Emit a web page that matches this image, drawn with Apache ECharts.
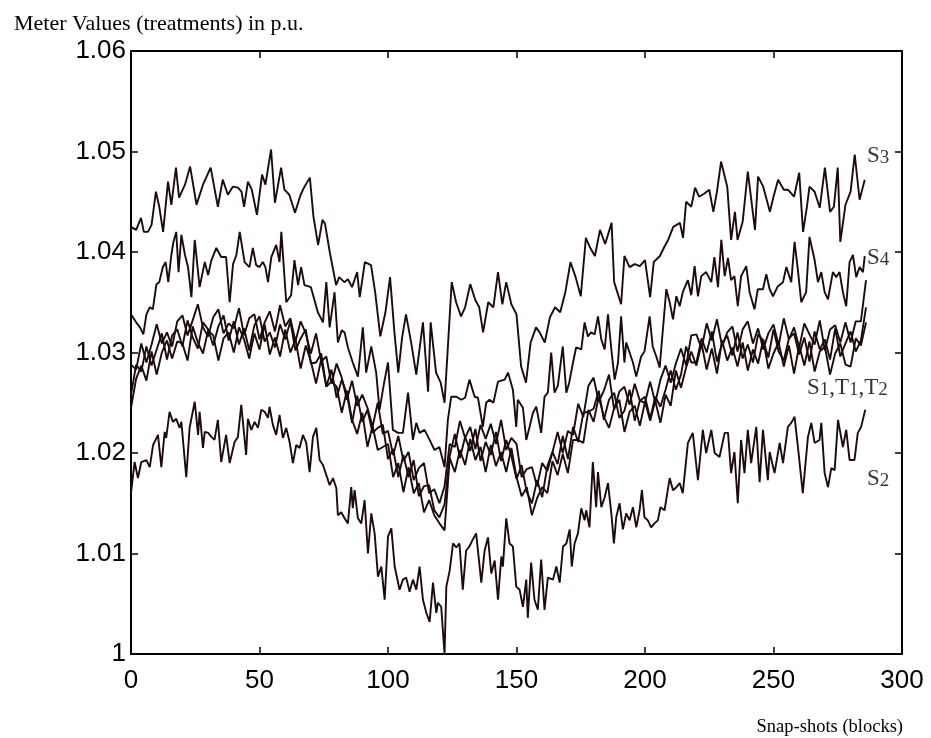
<!DOCTYPE html>
<html><head><meta charset="utf-8">
<script src="https://cdn.jsdelivr.net/npm/echarts@6/dist/echarts.min.js"></script>
<style>html,body{margin:0;padding:0;background:#fff}#c{width:931px;height:738px}</style>
</head><body><div id="c"></div>
<script>
// ---------- DATA ----------
const xTicks = [0, 50, 100, 150, 200, 250, 300];
const yTickLabels = ['1', '1.01', '1.02', '1.03', '1.04', '1.05', '1.06'];

// S3 (top curve) [snap-shot, value]
const S3 = [[0,1.0425],[2,1.0422],[3.9,1.0434],[5,1.042],[6.6,1.042],[8,1.0427],[9.7,1.046],[11,1.0445],[12.5,1.042],[14.4,1.047],
[15.7,1.0447],[17.5,1.0484],[18.7,1.0454],[21,1.0467],[23,1.0485],[25.5,1.0447],[28,1.0467],[31,1.0484],[33.8,1.0445],[35.7,1.0472],
[37.7,1.0457],[39.6,1.0465],[41.6,1.0464],[43,1.046],[44,1.0445],[45.5,1.047],[47,1.0462],[49,1.0437],[51,1.0477],[52.3,1.0467],
[54.5,1.0502],[56,1.0449],[58.4,1.0484],[59.7,1.0462],[61.6,1.0457],[63.8,1.0439],[66,1.0457],[67.5,1.0465],[69.6,1.0474],[71,1.0435],
[72.8,1.0407],[74.5,1.0432],[75.5,1.0428],[77.4,1.0399],[79.8,1.0367],[81,1.0375],[83,1.037],[84.4,1.0373],[86,1.0365],[88,1.038],
[89,1.0355],[91,1.039],[93.4,1.0387],[95,1.036],[97,1.0316],[99,1.034],[100.8,1.0375],[102.5,1.032],[104,1.028],[105.5,1.0315],
[107,1.0338],[109,1.031],[111,1.0278],[113.6,1.033],[115.6,1.0261],[116.6,1.033],[118.7,1.028],[120.5,1.027],[122,1.025],[124.8,1.037],
[126.5,1.035],[128.4,1.0336],[130,1.0345],[132,1.0368],[134,1.0352],[135.5,1.0345],[137,1.032],[139,1.035],[141,1.0345],[142.8,1.038],
[144.5,1.0348],[146,1.037],[148,1.0348],[150,1.0338],[151.8,1.0286],[153.7,1.027],[155.5,1.031],[157.6,1.0325],[159,1.032],[161,1.031],
[163,1.0335],[165,1.0345],[167,1.034],[169,1.036],[171,1.039],[173,1.0375],[175,1.0356],[177,1.0414],[178.5,1.0405],[180.5,1.0396],
[182.5,1.0422],[184.5,1.0408],[187,1.0429],[188,1.037],[190.7,1.0348],[192,1.0396],[194,1.0385],[196,1.0388],[198,1.0386],[200,1.0392],
[202,1.0355],[203.4,1.039],[205.8,1.0396],[207.5,1.0405],[209,1.0412],[211,1.0425],[213.6,1.0429],[214.8,1.0414],[216,1.045],[218,1.0445],
[219.5,1.0464],[221,1.0455],[223,1.0458],[225,1.0462],[226.6,1.044],[228,1.046],[229.6,1.049],[232,1.0465],[233.5,1.0412],[235,1.044],
[236,1.0412],[238,1.043],[240,1.048],[242.8,1.0422],[244,1.0475],[246,1.0465],[248.6,1.044],[250,1.0455],[251.8,1.0472],[254,1.0462],
[255.6,1.0462],[258,1.0455],[260,1.0479],[261.5,1.042],[263,1.0445],[264,1.0465],[266,1.046],[268,1.0444],[270,1.0484],[272,1.044],
[273.5,1.0445],[275,1.0484],[276,1.041],[278,1.0447],[280,1.046],[281.6,1.0497],[283.5,1.0452],[285.5,1.0472]];

// S4 (second curve)
const S4 = [[0,1.0338],[2,1.033],[3.5,1.0325],[4.8,1.0318],[6,1.0338],[7.3,1.0345],[8.5,1.0343],[9.9,1.0368],[11,1.037],[12.4,1.0385],
[13.5,1.039],[14.5,1.037],[15.7,1.0397],[16.5,1.041],[17.6,1.042],[18.5,1.038],[19.6,1.0417],[21,1.0397],[22.2,1.0385],[23.5,1.0355],
[24.8,1.0412],[26.7,1.0365],[28.7,1.039],[30,1.0377],[31.3,1.0392],[33.2,1.0404],[35.1,1.0395],[37,1.0395],[38.4,1.035],[39.7,1.0388],
[41,1.0397],[42.3,1.042],[44.2,1.039],[46.1,1.0385],[47.4,1.0404],[48.7,1.0387],[50,1.0385],[51.3,1.039],[52.3,1.0385],[53.3,1.037],
[54.6,1.0395],[56.5,1.0407],[57.8,1.039],[58.5,1.042],[60.4,1.035],[62.3,1.0357],[63.6,1.0392],[65,1.0367],[66.2,1.0385],[67.5,1.0367],
[70,1.0365],[72.7,1.034],[74.7,1.033],[76,1.037],[77.3,1.0325],[79.2,1.036],[80.5,1.031],[82,1.0322],[83.1,1.032],[84.4,1.0305],
[86.3,1.029],[88.3,1.0276],[90.2,1.0325],[91.5,1.028],[93.5,1.0306],[95.4,1.028],[96.7,1.0243],[98.5,1.027],[100,1.029],[101.9,1.0223],
[103.9,1.022],[105.8,1.022],[107.8,1.026],[109.7,1.0213],[111,1.023],[112.3,1.022],[114.2,1.0223],[116.2,1.0213],[118.1,1.0203],[120,1.0206],
[122,1.0186],[123.3,1.0233],[124.6,1.0256],[126.6,1.0256],[128.5,1.0253],[130,1.0255],[131.7,1.0273],[133.7,1.0256],[135,1.0255],[136.9,1.0226],
[138.2,1.025],[139.5,1.0253],[141,1.025],[142.8,1.0271],[145.4,1.0273],[146.7,1.028],[148.6,1.0263],[149.9,1.0226],[150.5,1.0253],[152.5,1.0245],
[153.8,1.0213],[155.1,1.0226],[156.4,1.024],[157.7,1.0246],[159.6,1.022],[160.9,1.0256],[162.2,1.026],[163.5,1.03],[164.8,1.026],[166.1,1.0267],
[168,1.0306],[169.4,1.026],[170.5,1.027],[172,1.029],[173.2,1.0305],[175.2,1.0303],[176.5,1.033],[177.8,1.0316],[179,1.032],[180.4,1.0318],
[181.7,1.0336],[183,1.0313],[184.3,1.0303],[185.6,1.0338],[186.9,1.0303],[188.2,1.0273],[189.5,1.029],[190.7,1.0336],[192,1.029],[192.7,1.031],
[194,1.03],[195.3,1.029],[196.6,1.0276],[198.5,1.0296],[199.8,1.0301],[201.8,1.0336],[203,1.0306],[204.4,1.0296],[205.7,1.0285],[206.3,1.0303],
[208.3,1.0363],[209.6,1.035],[210.9,1.0333],[212.2,1.0356],[213.5,1.0346],[214.7,1.036],[216.7,1.0372],[218,1.0357],[219.3,1.0386],[220.6,1.0356],
[221.9,1.0376],[223.8,1.038],[225.8,1.037],[227,1.0395],[228.4,1.0365],[229.7,1.0412],[231,1.0376],[232.3,1.0394],[233.5,1.0372],[234.8,1.0376],
[236.1,1.0346],[237.4,1.0376],[239.4,1.0386],[240.7,1.036],[242.6,1.0343],[243.9,1.0363],[245.9,1.0363],[247.2,1.0378],[248.5,1.0363],[249.8,1.0356],
[251.7,1.0366],[253.7,1.037],[255,1.0385],[256.9,1.037],[258.2,1.041],[259.5,1.0382],[260.8,1.035],[262.7,1.036],[264,1.0415],[266,1.0392],
[267.3,1.037],[268.6,1.038],[269.9,1.036],[271.2,1.0353],[273.1,1.038],[274.4,1.0375],[275.7,1.038],[277,1.036],[278.3,1.0346],[279.6,1.039],
[280.9,1.0397],[282.2,1.0375],[283.5,1.0385],[284.8,1.038],[285.5,1.0396]];

// S2 (bottom curve)
const S2 = [[0,1.016],[1.4,1.0191],[2.7,1.0175],[4,1.0191],[6,1.0193],[7.3,1.0186],[8.6,1.0208],[10.5,1.0218],[11.8,1.0186],[13.1,1.0221],
[13.7,1.0215],[15,1.0241],[16.3,1.0231],[17.6,1.0234],[18.9,1.0225],[19.6,1.0231],[21.5,1.0176],[22.8,1.0225],[24.8,1.0251],[26.1,1.0218],
[26.7,1.0241],[28,1.0205],[28.7,1.0221],[30,1.022],[31.3,1.0216],[32.5,1.0213],[33.8,1.0233],[35.1,1.0191],[37,1.0218],[38.4,1.019],
[40.3,1.0211],[41.6,1.0216],[42.9,1.0248],[44.8,1.0198],[45.5,1.0234],[46.8,1.0223],[48.1,1.0231],[49.4,1.0225],[50.7,1.0243],[52,1.0241],
[53.3,1.0235],[53.9,1.0246],[55.2,1.0228],[56.5,1.0218],[57.8,1.0238],[59.1,1.0215],[60.4,1.0225],[61.7,1.0211],[63,1.019],[64.3,1.0208],
[65.6,1.0205],[66.9,1.0218],[68.2,1.021],[69.5,1.0181],[70.8,1.0216],[72.1,1.0225],[73.4,1.0193],[74.7,1.0188],[76,1.0178],[77.3,1.0168],
[78.6,1.0175],[79.9,1.0165],[80.5,1.0138],[81.8,1.0141],[83.1,1.0135],[84.4,1.013],[85.7,1.0166],[86.3,1.0145],[87,1.0163],[88.3,1.0135],
[89.6,1.013],[90.9,1.0153],[92.2,1.01],[93.5,1.014],[94.8,1.012],[96.1,1.0077],[97.4,1.0087],[98.7,1.0054],[100,1.0117],[101.3,1.0125],
[102.6,1.0087],[104.5,1.0064],[105.8,1.0074],[107.1,1.0076],[108.4,1.0062],[109.7,1.0074],[111,1.0064],[112.3,1.0087],[113.6,1.0054],[114.9,1.0041],
[116.2,1.0032],[117.5,1.0071],[118.8,1.0041],[119.4,1.0051],[120.7,1.0047],[122,1.0],[122.7,1.0067],[124,1.0083],[125.3,1.011],[126.6,1.0106],
[127.8,1.011],[129.1,1.0064],[130.4,1.0103],[131.7,1.0107],[133,1.0114],[134.3,1.012],[136.3,1.0071],[137.6,1.0103],[138.9,1.0116],[140.2,1.008],
[141.5,1.0093],[142.8,1.0054],[144.1,1.0097],[144.7,1.0087],[146,1.0135],[147.3,1.011],[148.6,1.0107],[149.9,1.0067],[151.2,1.0064],[152.5,1.0047],
[153.8,1.0074],[154.4,1.0036],[155.7,1.0091],[157,1.0054],[158.3,1.0044],[159.6,1.0094],[160.9,1.0044],[162.2,1.0076],[164.2,1.0074],[165.5,1.0087],
[166.8,1.0071],[168.1,1.0107],[169.4,1.011],[170.7,1.0124],[171.5,1.0087],[172.6,1.011],[173.9,1.012],[175.2,1.0145],[176.5,1.0133],[177.1,1.0143],
[178.4,1.0126],[179.7,1.0191],[181,1.0146],[181.7,1.0181],[183,1.0146],[184.3,1.0156],[185.6,1.017],[186.9,1.014],[187.9,1.011],[188.8,1.0136],
[190.1,1.015],[191.4,1.0124],[192.7,1.014],[194,1.0133],[195.3,1.0146],[196.6,1.0126],[197.9,1.0143],[198.8,1.0163],[199.8,1.0136],[201.1,1.0133],
[202.4,1.0126],[203.7,1.013],[205,1.0133],[206,1.0146],[207.6,1.0143],[209.6,1.0175],[210.9,1.0163],[212.2,1.0166],[213.5,1.017],[214.7,1.016],
[216.7,1.021],[218.6,1.022],[220.6,1.0173],[222.5,1.0223],[223.8,1.02],[225.8,1.0223],[227.1,1.02],[229,1.0196],[231,1.022],[232.3,1.022],
[233.5,1.018],[234.8,1.0201],[236.1,1.015],[237.4,1.0213],[238.7,1.018],[240,1.0223],[241.3,1.019],[243.3,1.0226],[244.6,1.0171],[245.9,1.0223],
[247.8,1.0173],[248.5,1.0201],[250.4,1.018],[252.4,1.021],[253.7,1.019],[255.6,1.0226],[256.9,1.023],[258.2,1.0236],[259.5,1.0206],[261.4,1.016],
[263.4,1.0216],[264.7,1.023],[266,1.021],[267.9,1.0213],[268.6,1.023],[269.9,1.018],[271.2,1.0166],[272.5,1.0185],[273.8,1.0183],[275.1,1.0233],
[277,1.0206],[278.3,1.0223],[279.6,1.0193],[281.5,1.0193],[282.8,1.022],[284.1,1.0226],[285.7,1.0243]];

// S1, T1, T2 cluster: one value every 2 snap-shots, from 0 to 286
const clusterStep = 2;
const T1 = [1.0288,1.0283,1.0309,1.0290,1.0308,1.0328,1.0309,1.0320,1.0306,1.0331,
1.0337,1.0317,1.0332,1.0348,1.0325,1.0316,1.0335,1.0343,1.0319,1.0329,
1.0324,1.0344,1.0317,1.0334,1.0338,1.0313,1.0330,1.0341,1.0321,1.0347,
1.0326,1.0334,1.0311,1.0331,1.0319,1.0299,1.0319,1.0291,1.0296,1.0269,
1.0289,1.0275,1.0253,1.0272,1.0247,1.0258,1.0245,1.0226,1.0250,1.0219,
1.0222,1.0198,1.0217,1.0192,1.0201,1.0173,1.0185,1.0190,1.0160,1.0164,
1.0150,1.0167,1.0209,1.0206,1.0232,1.0215,1.0226,1.0204,1.0228,1.0214,
1.0229,1.0209,1.0233,1.0203,1.0215,1.0209,1.0176,1.0184,1.0186,1.0167,
1.0190,1.0182,1.0201,1.0221,1.0200,1.0222,1.0218,1.0249,1.0236,1.0267,
1.0275,1.0251,1.0262,1.0278,1.0243,1.0261,1.0266,1.0248,1.0269,1.0252,
1.0250,1.0271,1.0250,1.0273,1.0287,1.0270,1.0289,1.0304,1.0287,1.0317,
1.0318,1.0304,1.0329,1.0312,1.0333,1.0306,1.0320,1.0326,1.0301,1.0323,
1.0331,1.0309,1.0324,1.0303,1.0319,1.0328,1.0307,1.0334,1.0313,1.0325,
1.0305,1.0329,1.0318,1.0308,1.0332,1.0302,1.0323,1.0327,1.0310,1.0330,
1.0310,1.0331,1.0331,1.0372];
const S1 = [1.0258,1.0288,1.0281,1.0306,1.0287,1.0303,1.0319,1.0293,1.0317,1.0323,
1.0306,1.0332,1.0315,1.0304,1.0330,1.0323,1.0307,1.0326,1.0337,1.0312,
1.0331,1.0308,1.0324,1.0302,1.0327,1.0336,1.0311,1.0320,1.0305,1.0328,
1.0313,1.0331,1.0302,1.0314,1.0323,1.0289,1.0290,1.0299,1.0266,1.0283,
1.0255,1.0273,1.0259,1.0230,1.0257,1.0231,1.0243,1.0220,1.0225,1.0228,
1.0194,1.0204,1.0176,1.0198,1.0176,1.0193,1.0157,1.0167,1.0168,1.0143,
1.0136,1.0149,1.0197,1.0219,1.0195,1.0216,1.0202,1.0224,1.0192,1.0211,
1.0198,1.0221,1.0192,1.0213,1.0197,1.0174,1.0188,1.0161,1.0150,1.0173,
1.0156,1.0187,1.0201,1.0189,1.0217,1.0194,1.0226,1.0211,1.0240,1.0241,
1.0244,1.0262,1.0233,1.0253,1.0260,1.0235,1.0242,1.0263,1.0232,1.0252,
1.0256,1.0234,1.0256,1.0246,1.0263,1.0282,1.0263,1.0278,1.0306,1.0290,
1.0290,1.0314,1.0300,1.0321,1.0291,1.0309,1.0317,1.0297,1.0320,1.0294,
1.0308,1.0290,1.0318,1.0312,1.0295,1.0323,1.0301,1.0292,1.0314,1.0319,
1.0298,1.0315,1.0291,1.0321,1.0303,1.0313,1.0293,1.0324,1.0296,1.0309,
1.0321,1.0301,1.0312,1.0345];
const T2 = [1.0245,1.0274,1.0287,1.0272,1.0301,1.0278,1.0300,1.0312,1.0294,1.0311,
1.0309,1.0292,1.0326,1.0310,1.0299,1.0322,1.0317,1.0292,1.0314,1.0320,
1.0300,1.0325,1.0313,1.0294,1.0319,1.0303,1.0328,1.0298,1.0315,1.0296,
1.0323,1.0300,1.0313,1.0284,1.0307,1.0291,1.0269,1.0293,1.0266,1.0271,
1.0266,1.0240,1.0262,1.0233,1.0219,1.0240,1.0206,1.0227,1.0203,1.0206,
1.0209,1.0176,1.0190,1.0161,1.0186,1.0160,1.0170,1.0141,1.0153,1.0138,
1.0130,1.0123,1.0195,1.0181,1.0203,1.0188,1.0214,1.0193,1.0206,1.0181,
1.0208,1.0187,1.0201,1.0181,1.0205,1.0176,1.0157,1.0166,1.0138,1.0155,
1.0166,1.0160,1.0192,1.0178,1.0199,1.0180,1.0213,1.0213,1.0210,1.0243,
1.0231,1.0256,1.0236,1.0225,1.0245,1.0253,1.0221,1.0241,1.0247,1.0227,
1.0251,1.0232,1.0252,1.0230,1.0258,1.0247,1.0282,1.0265,1.0285,1.0301,
1.0287,1.0309,1.0283,1.0304,1.0279,1.0312,1.0292,1.0305,1.0286,1.0310,
1.0282,1.0303,1.0289,1.0313,1.0284,1.0299,1.0310,1.0286,1.0307,1.0279,
1.0307,1.0287,1.0311,1.0281,1.0301,1.0306,1.0278,1.0299,1.0309,1.0288,
1.0286,1.0314,1.0307,1.0330];

// curve labels: [text (rich), snap-shot, value]
const curveLabels = [
  ['{m|S}{s|3}', 286.4, 1.0497],
  ['{m|S}{s|4}', 286.4, 1.0396],
  ['{m|S}{s|1}{m|,T}{s|1}{m|,T}{s|2}', 263, 1.0266],
  ['{m|S}{s|2}', 286.4, 1.0176]
];
const yTitle = 'Meter Values (treatments) in p.u.';
const xTitle = 'Snap-shots (blocks)';

// ---------- CHART ----------
const toPairs = arr => arr.map((v, i) => [i * clusterStep, v]);
const LINE = '#1e0a0a';
const SANS = "'Liberation Sans', Arial, sans-serif";
const SERIF = "'Liberation Serif', 'Times New Roman', serif";

const lineSeries = (name, data) => ({
  name, type: 'line', data, showSymbol: false, symbol: 'none',
  lineStyle: { color: LINE, width: 1.9 }, xAxisIndex: 0, yAxisIndex: 0,
  animation: false, silent: true
});

const axisCommon = {
  axisLine: { show: true, onZero: false, lineStyle: { color: '#000', width: 2 } },
  axisTick: { show: true, inside: true, length: 7, lineStyle: { color: '#000', width: 1.5 } },
  splitLine: { show: false }
};

const chart = echarts.init(document.getElementById('c'), null, { renderer: 'canvas' });
chart.setOption({
  animation: false,
  backgroundColor: '#fff',
  title: [
    { text: yTitle, left: 9, top: 8, textStyle: { fontFamily: SERIF, fontSize: 22, fontWeight: 'normal', color: '#000' } },
    { text: xTitle, right: 23, top: 713, textStyle: { fontFamily: SERIF, fontSize: 18.5, fontWeight: 'normal', color: '#000' } }
  ],
  grid: { left: 131, right: 29, top: 51, bottom: 84, containLabel: false },
  xAxis: [
    Object.assign({ type: 'value', min: 0, max: 300, interval: 50, position: 'bottom',
      axisLabel: { show: true, color: '#000', fontFamily: SANS, fontSize: 26, margin: 14,
        formatter: v => String(xTicks[Math.round(v / 50)]) } }, axisCommon),
    Object.assign({ type: 'value', min: 0, max: 300, interval: 50, position: 'top',
      axisLabel: { show: false } }, axisCommon)
  ],
  yAxis: [
    Object.assign({ type: 'value', min: 1, max: 1.06, interval: 0.01, position: 'left',
      axisLabel: { show: true, color: '#000', fontFamily: SANS, fontSize: 26, margin: 5,
        formatter: v => yTickLabels[Math.round((v - 1) * 100)] } }, axisCommon),
    Object.assign({ type: 'value', min: 1, max: 1.06, interval: 0.01, position: 'right',
      axisLabel: { show: false } }, axisCommon)
  ],
  series: [
    lineSeries('S3', S3),
    lineSeries('S4', S4),
    lineSeries('T1', toPairs(T1)),
    lineSeries('S1', toPairs(S1)),
    lineSeries('T2', toPairs(T2)),
    lineSeries('S2', S2),
    {
      type: 'scatter', symbolSize: 0, silent: true, animation: false,
      data: curveLabels.map(l => ({ value: [l[1], l[2]], text: l[0] })),
      label: {
        show: true, position: [0, 0], align: 'left', verticalAlign: 'middle',
        formatter: p => p.data.text,
        rich: {
          m: { fontFamily: SERIF, fontSize: 23, color: '#000', lineHeight: 26, verticalAlign: 'bottom' },
          s: { fontFamily: SERIF, fontSize: 19, color: '#000', lineHeight: 18, verticalAlign: 'bottom' }
        }
      }
    }
  ]
});
</script>
</body></html>
